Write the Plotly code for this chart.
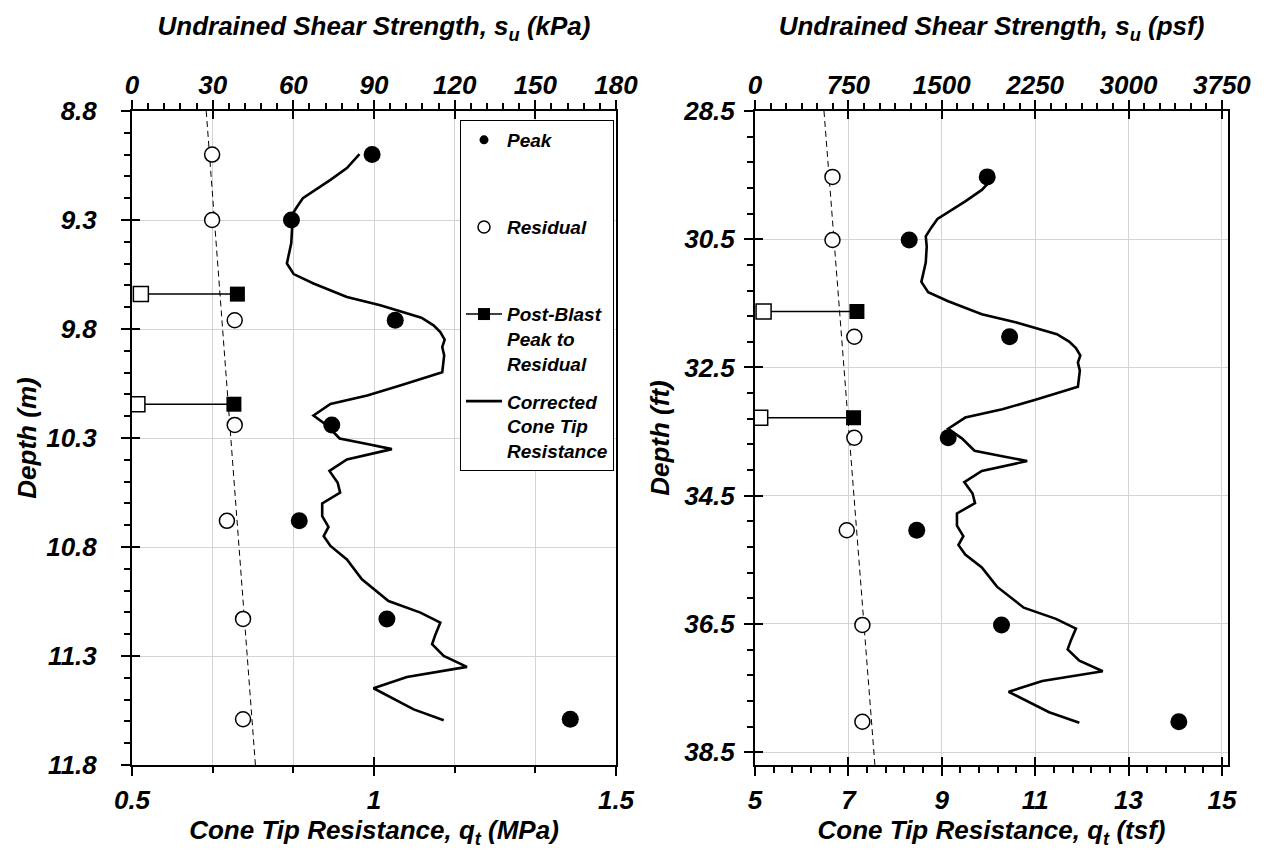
import plotly.graph_objects as go

# ---------------- data (SI units) ----------------
test_depth_m = [9.0, 9.3, 9.76, 10.24, 10.68, 11.13, 11.59]
peak_su_kpa = [89.3, 59.3, 97.9, 74.3, 62.2, 94.8, 163.0]
residual_su_kpa = [29.8, 29.8, 38.2, 38.2, 35.3, 41.3, 41.3]

blast_depth_m = [9.64, 10.145]
blast_peak_kpa = [39.2, 37.9]
blast_residual_kpa = [3.3, 2.0]

trend_depth_m = [8.8, 11.8]
trend_su_kpa = [27.6, 45.9]
trend_depth_ft = [28.5, 38.7]
trend_su_psf = [554, 963]

cone_depth_m = [8.998, 9.062, 9.116, 9.170, 9.200, 9.239, 9.282, 9.331, 9.407, 9.499,
                9.548, 9.591, 9.653, 9.691, 9.748, 9.783, 9.814, 9.849, 9.883, 9.921,
                9.998, 10.059, 10.105, 10.144, 10.197, 10.243, 10.302, 10.328, 10.351,
                10.398, 10.451, 10.505, 10.551, 10.600, 10.658, 10.708, 10.750, 10.795,
                10.857, 10.948, 11.048, 11.101, 11.147, 11.201, 11.246, 11.300, 11.350,
                11.396, 11.448, 11.545, 11.595]
cone_qt_mpa = [0.970, 0.944, 0.910, 0.875, 0.853, 0.841, 0.829, 0.831, 0.829, 0.820,
               0.834, 0.875, 0.944, 1.013, 1.098, 1.123, 1.137, 1.146, 1.141, 1.145,
               1.141, 1.054, 0.986, 0.910, 0.875, 0.903, 0.929, 0.986, 1.037,
               0.944, 0.908, 0.925, 0.930, 0.893, 0.893, 0.906, 0.896, 0.910,
               0.944, 0.975, 1.030, 1.096, 1.137, 1.127, 1.120, 1.144, 1.192,
               1.068, 0.999, 1.082, 1.144]

legend_names = ["Peak<br>&#160;<br>&#160;", "Residual<br>&#160;<br>&#160;",
                "Post-Blast<br>Peak to<br>Residual", "Corrected<br>Cone Tip<br>Resistance"]

# unit conversions for the right (imperial) panel
KPA_TO_PSF = 20.885
MPA_TO_TSF = 10.4427
M_TO_FT = 3.28084

FONT = "Liberation Sans, Arial, sans-serif"
W, H = 1267, 850


def px_x(p):
    return p / W


def px_y(p):
    return (H - p) / H


fig = go.Figure()

panels = [
    dict(su=1.0, qt=1.0, dz=1.0, xb="x", xt="x2", y="y",
         trend_x=trend_su_kpa, trend_y=trend_depth_m),
    dict(su=KPA_TO_PSF, qt=MPA_TO_TSF, dz=M_TO_FT, xb="x3", xt="x4", y="y2",
         trend_x=trend_su_psf, trend_y=trend_depth_ft),
]

for p in panels:
    su, qt, dz = p["su"], p["qt"], p["dz"]
    fig.add_trace(go.Scatter(x=p["trend_x"], y=p["trend_y"], xaxis=p["xt"], yaxis=p["y"],
                             mode="lines", line=dict(color="black", width=1, dash="6px,4px"),
                             showlegend=False, hoverinfo="skip"))
    fig.add_trace(go.Scatter(x=[v * qt for v in cone_qt_mpa], y=[d * dz for d in cone_depth_m],
                             xaxis=p["xb"], yaxis=p["y"], mode="lines",
                             line=dict(color="black", width=2.6), showlegend=False))
    for i in range(len(blast_depth_m)):
        fig.add_trace(go.Scatter(x=[blast_residual_kpa[i] * su, blast_peak_kpa[i] * su],
                                 y=[blast_depth_m[i] * dz] * 2, xaxis=p["xt"], yaxis=p["y"],
                                 mode="lines", line=dict(color="black", width=1.5),
                                 showlegend=False))
    fig.add_trace(go.Scatter(x=[v * su for v in blast_peak_kpa], y=[d * dz for d in blast_depth_m],
                             xaxis=p["xt"], yaxis=p["y"], mode="markers",
                             marker=dict(symbol="square", size=15, color="black"), showlegend=False))
    fig.add_trace(go.Scatter(x=[v * su for v in blast_residual_kpa], y=[d * dz for d in blast_depth_m],
                             xaxis=p["xt"], yaxis=p["y"], mode="markers",
                             marker=dict(symbol="square", size=15, color="white",
                                         line=dict(color="black", width=1.5)), showlegend=False))
    fig.add_trace(go.Scatter(x=[v * su for v in residual_su_kpa], y=[d * dz for d in test_depth_m],
                             xaxis=p["xt"], yaxis=p["y"], mode="markers",
                             marker=dict(symbol="circle", size=15, color="white",
                                         line=dict(color="black", width=1.5)), showlegend=False))
    fig.add_trace(go.Scatter(x=[v * su for v in peak_su_kpa], y=[d * dz for d in test_depth_m],
                             xaxis=p["xt"], yaxis=p["y"], mode="markers",
                             marker=dict(symbol="circle", size=17, color="black"), showlegend=False))

# legend-only entries
leg_styles = [
    dict(mode="markers", marker=dict(symbol="circle", size=9, color="black")),
    dict(mode="markers", marker=dict(symbol="circle", size=12, color="white",
                                     line=dict(color="black", width=1.5))),
    dict(mode="lines+markers", marker=dict(symbol="square", size=12, color="black"),
         line=dict(color="black", width=1.5)),
    dict(mode="lines", line=dict(color="black", width=2.6)),
]
for i, (nm, st) in enumerate(zip(legend_names, leg_styles)):
    fig.add_trace(go.Scatter(x=[None], y=[None], xaxis="x2", yaxis="y", showlegend=True,
                             legendgroup=f"g{i}", name=nm, **st))

tickfont = dict(family=FONT, size=26, color="black", weight="bold", style="italic")
titlefont = dict(family=FONT, size=26, color="black", weight="bold", style="italic")
GRID = "#d4d4d4"

dom_l = [px_x(132), px_x(616)]
dom_r = [px_x(755), px_x(1228)]
dom_y = [px_y(765), px_y(111)]


def base_axis(**kw):
    d = dict(showline=True, linecolor="black", linewidth=2, ticks="outside", ticklen=9,
             tickwidth=1.5, tickcolor="black", tickfont=tickfont, zeroline=False, automargin=False)
    d.update(kw)
    return d


def minor(dt, t0):
    return dict(dtick=dt, tick0=t0, ticks="outside", ticklen=6, tickcolor="black", showgrid=False)


layout = dict(
    width=W, height=H, paper_bgcolor="white", plot_bgcolor="white",
    margin=dict(l=0, r=0, t=0, b=0, autoexpand=False), showlegend=True,
    font=dict(family=FONT, color="black"),
    legend=dict(x=px_x(460), y=px_y(120), xanchor="left", yanchor="top",
                bgcolor="white", bordercolor="black", borderwidth=1, valign="top",
                font=dict(family=FONT, size=19, color="black", weight="bold", style="italic"),
                tracegroupgap=10, itemwidth=36),
    xaxis=base_axis(domain=dom_l, anchor="y", range=[0.5, 1.5], tick0=0.5, dtick=0.5,
                    showgrid=False, minor=minor(1 / 6, 0.5), ticklabelstandoff=2,
                    title=dict(text="Cone Tip Resistance, q<sub>t</sub> (MPa)", font=titlefont, standoff=0)),
    xaxis2=base_axis(domain=dom_l, anchor="y", overlaying="x", side="top", range=[0, 180],
                     tick0=0, dtick=30, showgrid=True, gridcolor=GRID, gridwidth=1,
                     minor=minor(6, 0), ticklabelstandoff=-4,
                     title=dict(text="Undrained Shear Strength, s<sub>u</sub> (kPa)", font=titlefont,
                                standoff=26)),
    yaxis=base_axis(domain=dom_y, anchor="x", range=[11.8, 8.8], tick0=8.8, dtick=0.5,
                    tickformat=".1f", showgrid=True, gridcolor=GRID, gridwidth=1, mirror=True,
                    minor=minor(0.1, 8.8), ticklabelstandoff=19,
                    title=dict(text="Depth (m)", font=titlefont, standoff=2)),
    xaxis3=base_axis(domain=dom_r, anchor="y2", range=[5, 15.13], tick0=5, dtick=2,
                     showgrid=False, minor=minor(0.4, 5), ticklabelstandoff=2,
                     title=dict(text="Cone Tip Resistance, q<sub>t</sub> (tsf)", font=titlefont, standoff=0)),
    xaxis4=base_axis(domain=dom_r, anchor="y2", overlaying="x3", side="top", range=[0, 3799],
                     tick0=0, dtick=750, showgrid=True, gridcolor=GRID, gridwidth=1,
                     minor=minor(125, 0), ticklabelstandoff=-4,
                     title=dict(text="Undrained Shear Strength, s<sub>u</sub> (psf)", font=titlefont,
                                standoff=26)),
    yaxis2=base_axis(domain=dom_y, anchor="x3", range=[38.7, 28.5], tick0=28.5, dtick=2,
                     tickformat=".1f", showgrid=True, gridcolor=GRID, gridwidth=1, mirror=True,
                     minor=minor(0.4, 28.5), ticklabelstandoff=4,
                     title=dict(text="Depth (ft)", font=titlefont, standoff=6)),
)

inside = dict(ticks="inside", ticklen=8, tickwidth=1.5, tickcolor="black", showticklabels=False,
              showgrid=False, showline=False, zeroline=False, automargin=False)
layout["xaxis5"] = dict(domain=dom_l, anchor="y", overlaying="x", side="bottom", range=[0.5, 1.5],
                        tick0=0.5, dtick=0.5, **inside)
layout["xaxis6"] = dict(domain=dom_l, anchor="y", overlaying="x", side="top", range=[0, 180],
                        tick0=0, dtick=30, **inside)
layout["yaxis3"] = dict(domain=dom_y, anchor="x", overlaying="y", side="left", range=[11.8, 8.8],
                        tick0=8.8, dtick=0.5, **inside)
layout["xaxis7"] = dict(domain=dom_r, anchor="y2", overlaying="x3", side="bottom", range=[5, 15.13],
                        tick0=5, dtick=2, **inside)
layout["xaxis8"] = dict(domain=dom_r, anchor="y2", overlaying="x3", side="top", range=[0, 3799],
                        tick0=0, dtick=750, **inside)
layout["yaxis4"] = dict(domain=dom_y, anchor="x3", overlaying="y2", side="left", range=[38.7, 28.5],
                        tick0=28.5, dtick=2, **inside)

fig.update_layout(**layout)

for xa, ya in [("x5", "y"), ("x6", "y"), ("x", "y3"), ("x7", "y2"), ("x8", "y2"), ("x3", "y4")]:
    fig.add_trace(go.Scatter(x=[None], y=[None], xaxis=xa, yaxis=ya, showlegend=False, hoverinfo="skip"))

fig.write_html("out.html", config={"displayModeBar": False},
               post_script="document.body.style.margin='0';document.body.style.overflow='hidden';")
